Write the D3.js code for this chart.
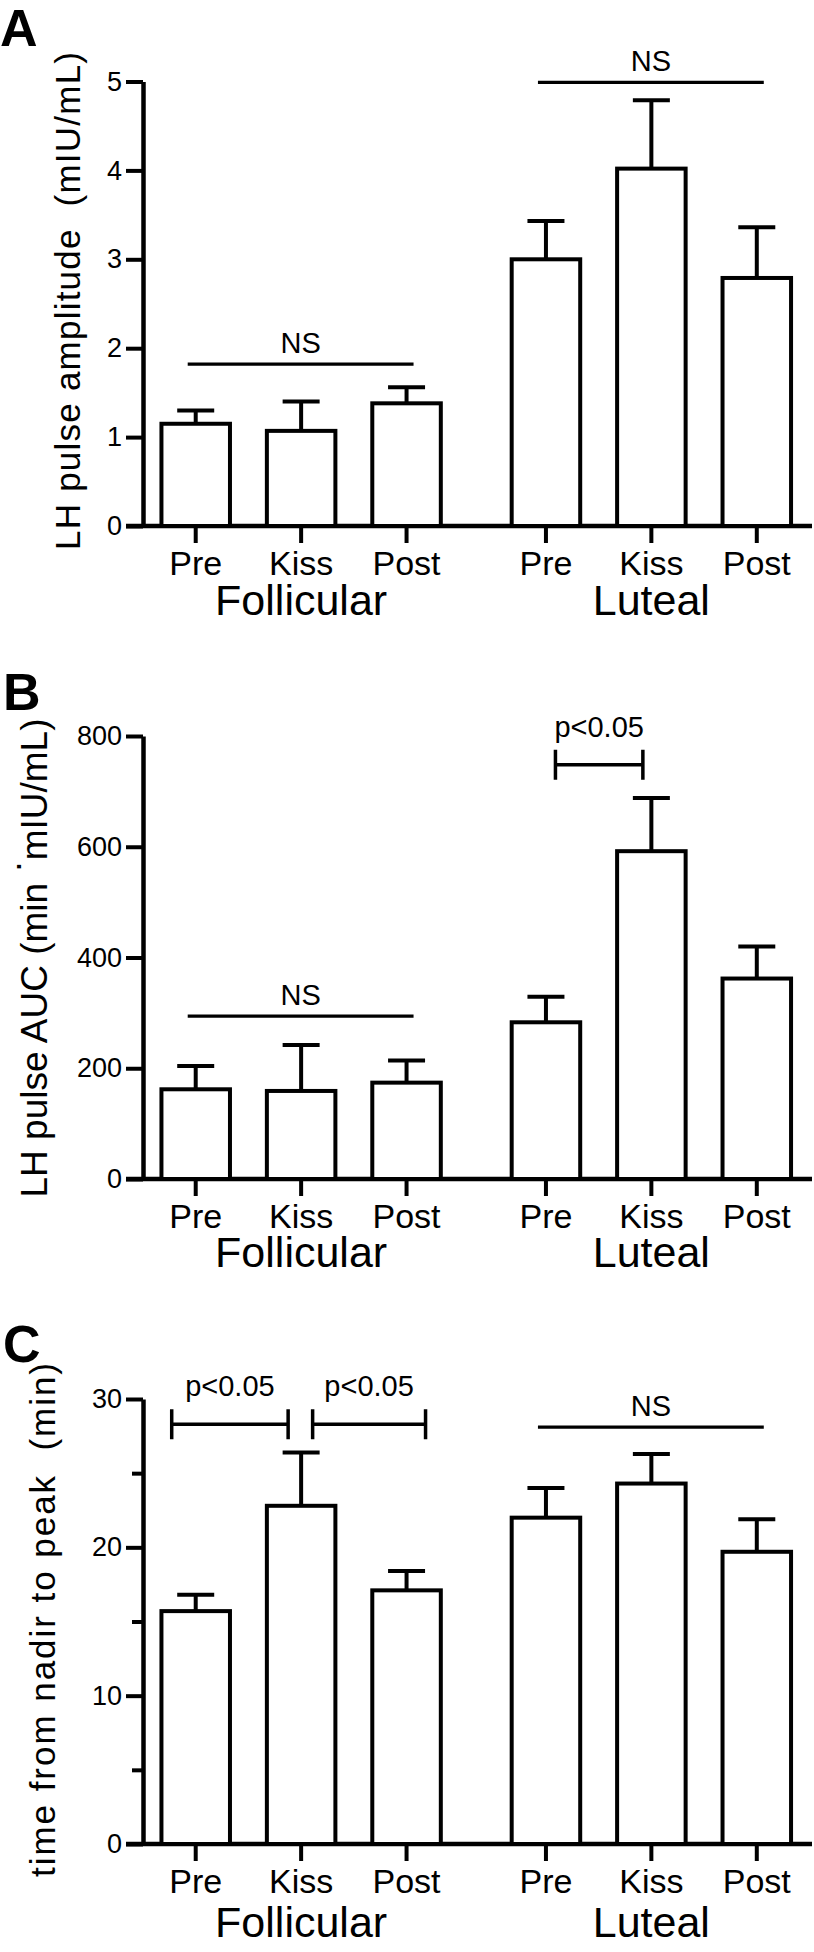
<!DOCTYPE html>
<html>
<head>
<meta charset="utf-8">
<title>LH pulse</title>
<script src="https://d3js.org/d3.v7.min.js"></script>
<style>
  body { margin: 0; background: #fff; }
  svg text { font-family: "Liberation Sans", Arial, Helvetica, sans-serif; fill: #000; }
</style>
</head>
<body>
<div id="chart"></div>
<script>
var phases = ["Follicular", "Luteal"];
var conditions = ["Pre", "Kiss", "Post"];

// A: LH pulse amplitude (mIU/mL), mean and SEM per phase
var ampMean = [[1.15, 1.07, 1.38], [3.0, 4.02, 2.79]];
var ampSem = [[0.15, 0.33, 0.18], [0.43, 0.77, 0.57]];
var ampTicks = [0, 1, 2, 3, 4, 5];

// B: LH pulse AUC (min mIU/mL)
var aucMean = [[162, 159, 174], [283, 592, 362]];
var aucSem = [[42, 83, 40], [46, 96, 58]];
var aucTicks = [0, 200, 400, 600, 800];

// C: time from nadir to peak (min)
var nadirMean = [[15.7, 22.8, 17.1], [22.0, 24.3, 19.7]];
var nadirSem = [[1.1, 3.6, 1.3], [2.0, 2.0, 2.2]];
var nadirTicks = [0, 10, 20, 30];
var nadirMinor = [5, 15, 25];

// annotations: NS lines over a phase, brackets between two conditions
var ampNS = [{phase: "Follicular", value: 1.82}, {phase: "Luteal", value: 4.99}];
var aucNS = [{phase: "Follicular", value: 294}];
var aucSig = [{phase: "Luteal", from: "Pre", to: "Kiss", value: 748, label: "p<0.05"}];
var nadirNS = [{phase: "Luteal", value: 28.1}];
var nadirSig = [
  {phase: "Follicular", from: "Pre", to: "Kiss", value: 28.3, label: "p<0.05"},
  {phase: "Follicular", from: "Kiss", to: "Post", value: 28.3, label: "p<0.05"}
];

var width = 814, height = 1952;
var axisX = 143;

var svg = d3.select("#chart").append("svg")
  .attr("width", width)
  .attr("height", height);

var outer = d3.scaleBand().domain(phases).range([axisX, 809.5]).paddingInner(0.097);
var inner = d3.scaleBand().domain(conditions).range([0, outer.bandwidth()])
  .paddingInner(0.35).paddingOuter(0.175);

function cx(phase, cond) {
  return outer(phase) + inner(cond) + inner.bandwidth() / 2;
}

function drawPanel(cfg) {
  var g = svg.append("g");
  var y = d3.scaleLinear().domain([0, cfg.max]).range([cfg.y0, cfg.y1]);

  // y axis
  var ya = g.append("g")
    .attr("transform", "translate(" + axisX + ",0)")
    .call(d3.axisLeft(y).tickValues(cfg.ticks).tickFormat(d3.format("d"))
      .tickSize(17).tickSizeOuter(0).tickPadding(4));
  ya.select(".domain").attr("stroke-width", 4.5);
  ya.selectAll(".tick line").attr("stroke-width", 4);
  ya.selectAll(".tick text").attr("font-size", 27).attr("font-family", null);

  if (cfg.minor) {
    var ym = g.append("g")
      .attr("transform", "translate(" + axisX + ",0)")
      .call(d3.axisLeft(y).tickValues(cfg.minor).tickSize(11).tickFormat(""));
    ym.select(".domain").remove();
    ym.selectAll(".tick line").attr("stroke-width", 4);
  }

  // x axis baseline
  g.append("line")
    .attr("x1", axisX - 17).attr("x2", 812)
    .attr("y1", y(0)).attr("y2", y(0))
    .attr("stroke", "#000").attr("stroke-width", 4.5);

  phases.forEach(function(p, pi) {
    var pg = g.append("g").attr("transform", "translate(" + outer(p) + "," + y(0) + ")");

    // bars
    pg.selectAll("rect.bar")
      .data(conditions)
      .enter().append("rect")
      .attr("class", "bar")
      .attr("x", function(c) { return inner(c); })
      .attr("y", function(c, i) { return y(cfg.mean[pi][i]) - y(0); })
      .attr("width", inner.bandwidth())
      .attr("height", function(c, i) { return y(0) - y(cfg.mean[pi][i]); })
      .attr("fill", "#fff")
      .attr("stroke", "#000")
      .attr("stroke-width", 4);

    // error bars (upper only)
    var eb = pg.selectAll("g.err")
      .data(conditions)
      .enter().append("g")
      .attr("class", "err");
    eb.append("line")
      .attr("x1", function(c) { return inner(c) + inner.bandwidth() / 2; })
      .attr("x2", function(c) { return inner(c) + inner.bandwidth() / 2; })
      .attr("y1", function(c, i) { return y(cfg.mean[pi][i]) - y(0); })
      .attr("y2", function(c, i) { return y(cfg.mean[pi][i] + cfg.sem[pi][i]) - y(0); })
      .attr("stroke", "#000").attr("stroke-width", 4);
    eb.append("line")
      .attr("x1", function(c) { return inner(c) + inner.bandwidth() / 2 - 18.5; })
      .attr("x2", function(c) { return inner(c) + inner.bandwidth() / 2 + 18.5; })
      .attr("y1", function(c, i) { return y(cfg.mean[pi][i] + cfg.sem[pi][i]) - y(0); })
      .attr("y2", function(c, i) { return y(cfg.mean[pi][i] + cfg.sem[pi][i]) - y(0); })
      .attr("stroke", "#000").attr("stroke-width", 4);

    // category ticks and labels
    var xa = pg.append("g").call(d3.axisBottom(inner).tickSize(17).tickPadding(8));
    xa.select(".domain").remove();
    xa.selectAll(".tick line").attr("stroke-width", 4);
    xa.selectAll(".tick text").attr("font-size", 34).attr("font-family", null);

    pg.append("text")
      .attr("x", outer.bandwidth() / 2)
      .attr("y", cfg.groupDy)
      .attr("text-anchor", "middle")
      .attr("font-size", 43)
      .text(p);
  });

  // NS lines
  (cfg.ns || []).forEach(function(a) {
    var x1 = cx(a.phase, conditions[0]) - 8;
    var x2 = cx(a.phase, conditions[conditions.length - 1]) + 7;
    g.append("line")
      .attr("x1", x1).attr("x2", x2)
      .attr("y1", y(a.value)).attr("y2", y(a.value))
      .attr("stroke", "#000").attr("stroke-width", 3.2);
    g.append("text")
      .attr("x", (x1 + x2) / 2)
      .attr("y", y(a.value) - 11)
      .attr("text-anchor", "middle")
      .attr("font-size", 29)
      .text("NS");
  });

  // significance brackets
  (cfg.sig || []).forEach(function(a, i) {
    var nudge = cfg.nudge[i];
    var x1 = cx(a.phase, a.from) + nudge[0];
    var x2 = cx(a.phase, a.to) + nudge[1];
    var yy = y(a.value);
    g.append("path")
      .attr("d", "M" + x1 + "," + (yy - 15) + "V" + (yy + 15) + "M" + x1 + "," + yy + "H" + x2 +
        "M" + x2 + "," + (yy - 15) + "V" + (yy + 15))
      .attr("fill", "none")
      .attr("stroke", "#000").attr("stroke-width", 3.5);
    g.append("text")
      .attr("x", (x1 + x2) / 2)
      .attr("y", yy - 28)
      .attr("text-anchor", "middle")
      .attr("font-size", 29)
      .text(a.label);
  });

  // panel letter
  svg.append("text")
    .attr("x", cfg.letterX).attr("y", cfg.letterY)
    .attr("font-size", 52)
    .attr("font-weight", "bold")
    .text(cfg.letter);

  // y title
  var t = svg.append("text")
    .attr("transform", "translate(" + cfg.titleX + "," + cfg.titleY + ") rotate(-90)")
    .attr("text-anchor", "middle")
    .attr("font-size", cfg.titleSize)
    .style("white-space", "pre");
  if (cfg.titleLen) t.attr("textLength", cfg.titleLen).attr("lengthAdjust", "spacing");
  cfg.title.forEach(function(part) {
    var ts = t.append("tspan").text(part.text);
    if (part.dy) ts.attr("dy", part.dy);
  });
}

drawPanel({
  letter: "A", letterX: 0, letterY: 46,
  max: 5, ticks: ampTicks, y0: 526, y1: 81.5,
  mean: ampMean, sem: ampSem, ns: ampNS, groupDy: 89,
  title: [{text: "LH pulse amplitude  (mIU/mL)"}],
  titleX: 80, titleY: 301, titleSize: 35, titleLen: 498
});

drawPanel({
  letter: "B", letterX: 3, letterY: 710,
  max: 800, ticks: aucTicks, y0: 1179, y1: 736,
  mean: aucMean, sem: aucSem, ns: aucNS, sig: aucSig, nudge: [[9.5, -8.5]], groupDy: 88,
  title: [{text: "LH pulse AUC (min "}, {text: "\u00B7", dy: "-0.5em"}, {text: "mIU/mL)", dy: "0.5em"}],
  titleX: 47, titleY: 958, titleSize: 37
});

drawPanel({
  letter: "C", letterX: 3, letterY: 1362,
  max: 30, ticks: nadirTicks, minor: nadirMinor, y0: 1844, y1: 1399,
  mean: nadirMean, sem: nadirSem, ns: nadirNS, sig: nadirSig, nudge: [[-24, -13], [11.5, 19]], groupDy: 93,
  title: [{text: "time from nadir to peak  (min)"}],
  titleX: 55, titleY: 1620, titleSize: 35, titleLen: 514
});
</script>
</body>
</html>
